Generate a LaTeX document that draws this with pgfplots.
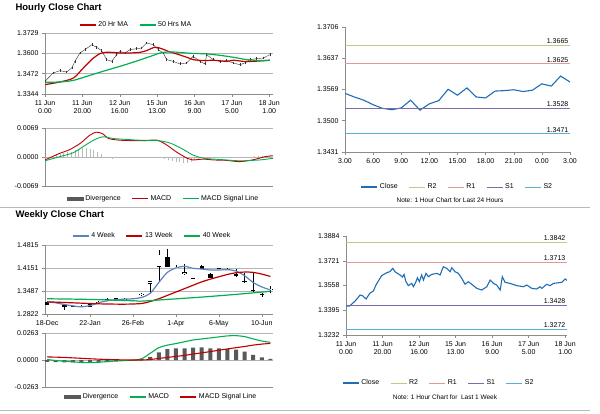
\documentclass[border=0pt]{standalone}
\usepackage{fontspec}
\setmainfont{Liberation Sans}
\usepackage{pgfplots}
\pgfplotsset{compat=1.18}
\usepackage{pgfplotstable}

\definecolor{mared}{HTML}{C00000}
\definecolor{magreen}{HTML}{00B050}
\definecolor{wkblue}{HTML}{5A84BE}
\definecolor{closeblue}{HTML}{1F6EB4}
\definecolor{rtwo}{HTML}{C8C28E}
\definecolor{rone}{HTML}{DE9A98}
\definecolor{sone}{HTML}{7E6AA8}
\definecolor{stwo}{HTML}{55B2D2}
\definecolor{divgray}{HTML}{595959}
\definecolor{gridgray}{HTML}{B4B4B4}
\definecolor{axgray}{HTML}{8C8C8C}

\tikzset{lvl/.style={anchor=south east, inner sep=1.5pt, font=\fontsize{7}{8}\selectfont}}

\pgfplotsset{
  panel/.style={scale only axis, anchor=south west, clip mode=individual,
    axis x line=bottom, axis y line=left,
    axis line style={-, axgray, line width=0.5pt},
    tick style={axgray, line width=0.5pt}, tick align=outside, major tick length=3pt,
    ticklabel style={font=\fontsize{7}{8.5}\selectfont, text=black},
    xticklabel style={align=center},
    scaled y ticks=false, scaled x ticks=false,
    legend columns=-1,
    legend image code/.code={\draw[##1] (0pt,0pt) -- (16pt,0pt);},
    legend style={draw=none, fill=none, font=\fontsize{7}{8}\selectfont,
      /tikz/every even column/.append style={column sep=9pt}}},
  gridded/.style={ymajorgrids, grid style={gridgray, line width=0.5pt}},
}

% weekly candles: week, open, high, low, close
\pgfplotstableread{
w o h l c
0 1.3145 1.3170 1.3080 1.3100
1 1.3120 1.3150 1.3100 1.3130
2 1.3060 1.3090 1.2950 1.3050
3 1.3010 1.3050 1.2990 1.3030
4 1.3040 1.3070 1.3020 1.3050
5 1.3050 1.3100 1.3040 1.3090
6 1.3150 1.3190 1.3140 1.3170
7 1.3230 1.3270 1.3220 1.3240
8 1.3270 1.3290 1.3230 1.3240
9 1.3230 1.3270 1.3210 1.3250
10 1.3270 1.3320 1.3260 1.3300
11 1.3380 1.3440 1.3330 1.3390
12 1.3710 1.3780 1.3440 1.3760
13 1.4200 1.4659 1.3780 1.4512
14 1.4463 1.4688 1.4170 1.4200
15 1.4073 1.4239 1.4050 1.4170
16 1.4000 1.4268 1.3946 1.4010
17 1.3848 1.4160 1.3840 1.4141
18 1.4200 1.4239 1.4120 1.4141
19 1.3975 1.4000 1.3860 1.3877
20 1.4102 1.4160 1.4090 1.4130
21 1.4102 1.4160 1.4080 1.4110
22 1.3975 1.4122 1.3910 1.3926
23 1.3760 1.4004 1.3740 1.3750
24 1.3495 1.4043 1.3480 1.3487
25 1.3395 1.3420 1.3321 1.3389
26 1.3520 1.3633 1.3438 1.3536
}\weekly

\begin{document}
\begin{tikzpicture}[x=1pt, y=1pt]
\path[use as bounding box] (0pt,0pt) rectangle (600pt,413pt);

\node[anchor=west, font=\bfseries\fontsize{9.5}{11}\selectfont] at (12pt,405pt) {Hourly Close Chart};
\node[anchor=west, font=\bfseries\fontsize{9.5}{11}\selectfont] at (12pt,198pt) {Weekly Close Chart};
\draw[gray!55, line width=0.8pt] (0pt,206pt) -- (590pt,206pt);
\draw[gray!55, line width=0.8pt] (0pt,3pt) -- (590pt,3pt);

% ---- hourly close with moving averages
\begin{axis}[panel, gridded, at={(45pt,319pt)}, width=228pt, height=61pt,
  xmin=0, xmax=122, ymin=1.3344, ymax=1.3729,
  ytick={1.3344,1.3472,1.3600,1.3729}, yticklabels={1.3344,1.3472,1.3600,1.3729},
  xtick={0,20,...,120},
  xticklabels={{11 Jun\\0.00},{11 Jun\\20.00},{12 Jun\\16.00},{15 Jun\\13.00},{16 Jun\\9.00},{17 Jun\\5.00},{18 Jun\\1.00}},
  legend style={at={(0.40,1.13)}, anchor=center}]
\addplot[black!80, line width=0.4pt, mark=|, mark size=1.4pt, forget plot] coordinates {
 (0,1.3424) (4.4,1.3477) (8,1.3491) (11.6,1.3483) (14.3,1.3508) (16,1.3550)
 (18.7,1.3603) (21.4,1.3624) (25,1.3655) (27.6,1.3639) (30.3,1.3618) (33,1.3561)
 (35.7,1.3550) (38.3,1.3592) (40.1,1.3613) (42.8,1.3603) (45.5,1.3624) (49,1.3630)
 (51.7,1.3634) (54.4,1.3666) (58,1.3655) (60.6,1.3624) (63.3,1.3603) (65.1,1.3561)
 (68.6,1.3550) (72.2,1.3534) (75.8,1.3540) (79.3,1.3582) (82.9,1.3550) (85.6,1.3534)
 (86.5,1.3592) (90,1.3561) (93.6,1.3550) (97.2,1.3555) (100.7,1.3540) (104.3,1.3529)
 (107,1.3540) (109.7,1.3561) (113.2,1.3567) (116.8,1.3571) (120.3,1.3592)};
\addplot[mared, line width=1.2pt, smooth] coordinates {
 (0,1.3403) (8,1.3420) (15.2,1.3445) (20.5,1.3508) (25.9,1.3571) (30.3,1.3603)
 (34.8,1.3607) (40.1,1.3603) (45.5,1.3603) (50.8,1.3607) (54.4,1.3618) (58.8,1.3639)
 (62.4,1.3630) (66,1.3613) (70.4,1.3597) (75.8,1.3576) (79.3,1.3561) (84.7,1.3555)
 (90,1.3557) (97.2,1.3550) (100.7,1.3557) (106.1,1.3550) (111.4,1.3550) (120.3,1.3557)};
\addlegendentry{20 Hr MA}
\addplot[magreen, line width=1.2pt, smooth] coordinates {
 (0,1.3418) (8,1.3420) (15.2,1.3430) (24.1,1.3462) (33,1.3494) (41.9,1.3525)
 (50.8,1.3559) (58,1.3588) (62.4,1.3605) (68.6,1.3609) (77.6,1.3601) (86.5,1.3597)
 (93.6,1.3588) (100.7,1.3576) (107.9,1.3561) (115,1.3555) (120.3,1.3557)};
\addlegendentry{50 Hrs MA}
\end{axis}

% ---- hourly MACD
\begin{axis}[panel, gridded, at={(45pt,227pt)}, width=228pt, height=58pt,
  xmin=0, xmax=122, ymin=-0.0069, ymax=0.0069,
  ytick={-0.0069,0,0.0069}, yticklabels={-0.0069,0.0000,0.0069}, xtick=\empty,
  legend style={at={(0.52,-0.22)}, anchor=center}]
\addplot[ycomb, gray!55, line width=0.5pt, forget plot] coordinates {
 (0,-0.0002) (2,0.0001) (4,0.0003) (6,0.0005) (8,0.0007) (10,0.0009) (12,0.0011)
 (14,0.0013) (16,0.0016) (18,0.0019) (20,0.0021) (22,0.0022) (24,0.0020) (26,0.0016)
 (28,0.0011) (30,0.0006) (32,0.0001) (34,-0.0003) (36,-0.0004) (38,-0.0003) (40,-0.0002)
 (42,-0.0001) (44,-0.0001) (48,-0.0001) (58,0.0001) (62,-0.0002) (64,-0.0004)
 (66,-0.0006) (68,-0.0009) (70,-0.0011) (72,-0.0013) (74,-0.0015) (76,-0.0015)
 (78,-0.0012) (80,-0.0008) (82,-0.0005) (84,-0.0002) (86,-0.0001) (90,-0.0001)
 (92,-0.0001) (94,-0.0001) (96,-0.0001) (98,-0.0002) (100,-0.0002) (102,-0.0001)
 (104,-0.0001) (108,0.0001) (110,0.0001) (112,0.0002) (114,0.0002) (116,0.0002)
 (118,0.0003) (120,0.0003) (122,0.0004)};
\addlegendimage{legend image code/.code={\fill[divgray] (0pt,-1.7pt) rectangle (16pt,1.7pt);}}
\addlegendentry{Divergence}
\addplot[mared, line width=0.9pt, smooth] coordinates {
 (0,-0.0007) (8,0.0009) (13,0.0017) (19,0.0033) (24,0.0052) (27.5,0.0059) (31,0.0055)
 (34,0.0044) (40,0.0040) (47,0.0039) (54,0.0039) (60,0.0040) (65,0.0029) (70,0.0013)
 (76,-0.0003) (79,-0.0007) (85,-0.0005) (90,-0.0007) (97,-0.0008) (104,-0.0011)
 (111,-0.0007) (118,0.0001) (122,0.0003)};
\addlegendentry{MACD}
\addplot[magreen, line width=0.9pt, smooth] coordinates {
 (0,-0.0009) (8,0.0001) (15,0.0010) (20.5,0.0025) (26,0.0040) (31,0.0048) (36.5,0.0044)
 (43,0.0042) (50,0.0040) (60,0.0039) (67,0.0033) (74,0.0018) (79,0.0005) (85,-0.0003)
 (94,-0.0006) (104,-0.0009) (115,-0.0007) (122,-0.0003)};
\addlegendentry{MACD Signal Line}
\end{axis}

% ---- last 24 hours with pivot levels
\begin{axis}[panel, at={(345pt,261pt)}, width=225pt, height=125pt,
  xmin=0, xmax=24, ymin=1.3431, ymax=1.3706,
  ytick={1.3431,1.3500,1.3569,1.3637,1.3706}, yticklabels={1.3431,1.3500,1.3569,1.3637,1.3706},
  xtick={0,3,...,24}, xticklabels={3.00,6.00,9.00,12.00,15.00,18.00,21.00,0.00,3.00},
  legend style={at={(0.50,-0.28)}, anchor=center}]
\addplot[closeblue, line width=1.1pt] coordinates {
 (0,1.3560) (1,1.3552) (2,1.3545) (3,1.3535) (4,1.3527) (5,1.3524) (6,1.3528) (7,1.3545)
 (8,1.3523) (9,1.3537) (10,1.3544) (11,1.3569) (12,1.3556) (13,1.3572) (14,1.3552)
 (15,1.3550) (16,1.3565) (17,1.3566) (18,1.3568) (19,1.3564) (20,1.3567) (21,1.3581)
 (22,1.3576) (23,1.3598) (24,1.3585)};
\addlegendentry{Close}
\addplot[rtwo, line width=0.8pt] coordinates {(0,1.3665) (24,1.3665)};
\addlegendentry{R2}
\addplot[rone, line width=0.8pt] coordinates {(0,1.3625) (24,1.3625)};
\addlegendentry{R1}
\addplot[sone, line width=0.8pt] coordinates {(0,1.3528) (24,1.3528)};
\addlegendentry{S1}
\addplot[stwo, line width=0.8pt] coordinates {(0,1.3471) (24,1.3471)};
\addlegendentry{S2}
\node[lvl] at (axis cs:24,1.3665) {1.3665};
\node[lvl] at (axis cs:24,1.3625) {1.3625};
\node[lvl] at (axis cs:24,1.3528) {1.3528};
\node[lvl] at (axis cs:24,1.3471) {1.3471};
\end{axis}
\node[font=\fontsize{6.5}{8}\selectfont] at (450pt,213pt) {Note: 1 Hour Chart for Last 24 Hours};

% ---- weekly close with moving averages
\begin{axis}[panel, gridded, at={(45pt,99pt)}, width=228pt, height=69pt,
  xmin=-0.25, xmax=26.3, ymin=1.2822, ymax=1.4815,
  ytick={1.2822,1.3487,1.4151,1.4815}, yticklabels={1.2822,1.3487,1.4151,1.4815},
  xtick={0,5,...,25}, xticklabels={18-Dec,22-Jan,26-Feb,1-Apr,6-May,10-Jun},
  legend style={at={(0.47,1.13)}, anchor=center}]
\addplot[draw=none, mark=none, forget plot,
  error bars/.cd, y dir=both, y explicit, error mark=none,
  error bar style={draw=black, line width=0.5pt}]
  table[x=w, y=c, y error plus expr=\thisrow{h}-\thisrow{c}, y error minus expr=\thisrow{c}-\thisrow{l}] {\weekly};
\addplot[draw=none, mark=none, forget plot,
  error bars/.cd, y dir=plus, y explicit, error mark=none,
  error bar style={draw=black, line width=4.4pt}]
  table[x=w, y expr={min(\thisrow{o},\thisrow{c})-0.0012}, y error plus expr={abs(\thisrow{c}-\thisrow{o})+0.0024}] {\weekly};
\addplot[draw=none, mark=none, forget plot,
  error bars/.cd, y dir=plus, y explicit, error mark=none,
  error bar style={draw=white, line width=3.6pt}]
  table[x=w, y expr={min(\thisrow{o},\thisrow{c})}, y error plus expr={max(\thisrow{c}-\thisrow{o},0)}] {\weekly};
\addplot[wkblue, line width=1.2pt, smooth] coordinates {
 (0,1.3174) (1,1.3145) (2,1.3096) (3,1.3057) (4,1.3028) (5,1.3067) (6,1.3145) (7,1.3204)
 (8,1.3233) (9,1.3252) (10,1.3262) (11,1.3301) (12,1.3418) (13,1.3731) (14,1.4024)
 (15,1.4151) (16,1.4200) (17,1.4141) (18,1.4122) (19,1.4092) (20,1.4092) (21,1.4102)
 (22,1.4063) (23,1.3926) (24,1.3731) (25,1.3604) (26,1.3516)};
\addlegendentry{4 Week}
\addplot[mared, line width=1.2pt, smooth] coordinates {
 (0,1.3174) (3,1.3145) (6,1.3116) (9,1.3106) (11,1.3125) (12,1.3184) (13,1.3262)
 (14,1.3360) (15,1.3457) (16,1.3555) (17,1.3653) (18,1.3750) (19,1.3829) (20,1.3897)
 (21,1.3965) (22,1.4014) (23,1.4034) (24,1.4024) (25,1.3975) (26,1.3907)};
\addlegendentry{13 Week}
\addplot[magreen, line width=1.2pt, smooth] coordinates {
 (0,1.3262) (5,1.3243) (10,1.3204) (11,1.3194) (14,1.3243) (18,1.3311) (22,1.3389) (26,1.3477)};
\addlegendentry{40 Week}
\end{axis}

% ---- weekly MACD
\begin{axis}[panel, gridded, at={(45pt,26pt)}, width=228pt, height=54pt,
  xmin=-0.25, xmax=26.3, ymin=-0.0263, ymax=0.0263,
  ytick={-0.0263,0,0.0263}, yticklabels={-0.0263,0.0000,0.0263}, xtick=\empty,
  legend style={at={(0.51,-0.185)}, anchor=center}]
\addplot[ybar, bar width=4pt, fill=divgray, draw=none, forget plot] coordinates {
 (0,-0.0018) (1,-0.0020) (2,-0.0022) (3,-0.0024) (4,-0.0026) (5,-0.0026) (6,-0.0024)
 (7,-0.0020) (8,-0.0014) (9,-0.0008) (10,-0.0003) (11,0.0008) (12,0.0030) (13,0.0075)
 (14,0.0107) (15,0.0114) (16,0.0114) (17,0.0120) (18,0.0123) (19,0.0114) (20,0.0114)
 (21,0.0107) (22,0.0100) (23,0.0081) (24,0.0049) (25,0.0026) (26,0.0010)};
\addlegendimage{legend image code/.code={\fill[divgray] (0pt,-1.7pt) rectangle (16pt,1.7pt);}}
\addlegendentry{Divergence}
\addplot[magreen, line width=1.1pt, smooth] coordinates {
 (0,0.0005) (1,-0.0005) (2,-0.0012) (3,-0.0018) (4,-0.0024) (5,-0.0026) (6,-0.0022)
 (7,-0.0015) (8,-0.0010) (9,-0.0006) (10,-0.0002) (11,0.0012) (12,0.0065) (13,0.0120)
 (14,0.0145) (15,0.0160) (16,0.0178) (17,0.0195) (18,0.0205) (19,0.0215) (20,0.0225)
 (21,0.0235) (22,0.0237) (23,0.0228) (24,0.0205) (25,0.0185) (26,0.0172)};
\addlegendentry{MACD}
\addplot[mared, line width=1.1pt, smooth] coordinates {
 (0,0.0030) (2,0.0025) (5,0.0012) (7,0.0005) (9,0.0001) (11,0.0000) (12,0.0005)
 (13,0.0015) (14,0.0025) (15,0.0035) (16,0.0045) (17,0.0058) (18,0.0070) (19,0.0082)
 (20,0.0095) (21,0.0108) (22,0.0120) (23,0.0132) (24,0.0145) (25,0.0155) (26,0.0162)};
\addlegendentry{MACD Signal Line}
\end{axis}

% ---- last week hourly with pivot levels
\begin{axis}[panel, at={(346pt,78pt)}, width=221pt, height=99pt,
  xmin=0, xmax=121, ymin=1.3232, ymax=1.3884,
  ytick={1.3232,1.3395,1.3558,1.3721,1.3884}, yticklabels={1.3232,1.3395,1.3558,1.3721,1.3884},
  xtick={0,20,...,120},
  xticklabels={{11 Jun\\0.00},{11 Jun\\20.00},{12 Jun\\16.00},{15 Jun\\13.00},{16 Jun\\9.00},{17 Jun\\5.00},{18 Jun\\1.00}},
  legend style={at={(0.42,-0.485)}, anchor=center}]
\addplot[closeblue, line width=1.1pt] coordinates {
 (0,1.3423) (2,1.3423) (5,1.3456) (7.7,1.3495) (9,1.3491) (11,1.3469) (13,1.3506)
 (15,1.3522) (16.4,1.3561) (17.7,1.3587) (19.5,1.3623) (22.3,1.3642) (24,1.3649)
 (25.6,1.3671) (26.8,1.3649) (29.6,1.3627) (30.9,1.3614) (31.8,1.3631) (32.7,1.3587)
 (34.1,1.3557) (36,1.3572) (36.9,1.3550) (38.3,1.3583) (39.1,1.3609) (40.2,1.3583)
 (41.4,1.3627) (42.4,1.3594) (43.8,1.3638) (45.1,1.3616) (46.9,1.3631) (49.7,1.3638)
 (51.5,1.3627) (53.3,1.3682) (55.1,1.3671) (57,1.3649) (57.9,1.3675) (59.7,1.3649)
 (61.5,1.3638) (63.4,1.3605) (65.2,1.3566) (67,1.3583) (69.8,1.3557) (71.6,1.3539)
 (74.3,1.3528) (77.1,1.3550) (78.9,1.3594) (80.7,1.3572) (82.5,1.3561) (84.4,1.3528)
 (85.6,1.3616) (87.1,1.3579) (89.8,1.3572) (93.5,1.3557) (97.1,1.3550) (99,1.3561)
 (101.7,1.3539) (104.4,1.3535) (106.3,1.3550) (107.2,1.3539) (109.9,1.3566)
 (111.7,1.3557) (113.6,1.3572) (116.3,1.3576) (118.1,1.3579) (120,1.3601) (120.9,1.3592)};
\addlegendentry{Close}
\addplot[rtwo, line width=0.8pt] coordinates {(0,1.3842) (121,1.3842)};
\addlegendentry{R2}
\addplot[rone, line width=0.8pt] coordinates {(0,1.3713) (121,1.3713)};
\addlegendentry{R1}
\addplot[sone, line width=0.8pt] coordinates {(0,1.3428) (121,1.3428)};
\addlegendentry{S1}
\addplot[stwo, line width=0.8pt] coordinates {(0,1.3272) (121,1.3272)};
\addlegendentry{S2}
\node[lvl] at (axis cs:121,1.3842) {1.3842};
\node[lvl] at (axis cs:121,1.3713) {1.3713};
\node[lvl] at (axis cs:121,1.3428) {1.3428};
\node[lvl] at (axis cs:121,1.3272) {1.3272};
\end{axis}
\node[font=\fontsize{6.5}{8}\selectfont] at (445pt,16pt) {Note: 1 Hour Chart for\ \ Last 1 Week};

\end{tikzpicture}
\end{document}
